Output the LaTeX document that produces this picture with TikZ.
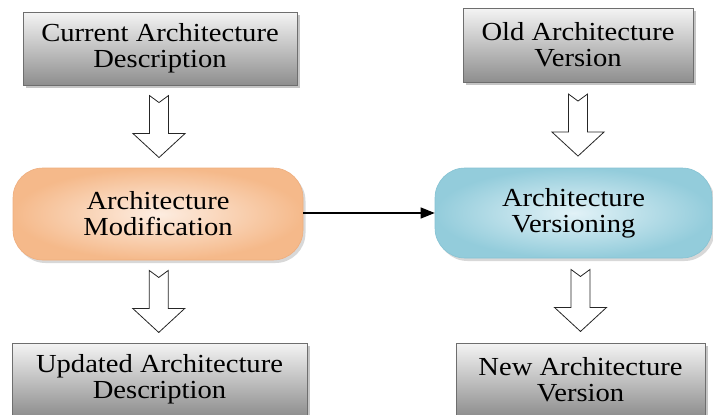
\documentclass[tikz,border=0pt]{standalone}
\usepackage{fontspec}
\setmainfont{Liberation Serif}[FakeStretch=1.1]
\usetikzlibrary{shadows,calc,arrows.meta}

\definecolor{boxedge}{HTML}{6E6E6E}
\definecolor{greytop}{HTML}{F4F4F4}
\definecolor{greybot}{HTML}{8E8E8E}
\definecolor{orangeout}{HTML}{F5B98A}
\definecolor{orangein}{HTML}{FDEDE1}
\definecolor{orangeedge}{HTML}{EFAE7E}
\definecolor{blueout}{HTML}{93CCDB}
\definecolor{bluein}{HTML}{E2F2F7}
\definecolor{blueedge}{HTML}{86C3D3}

\tikzset{
  docbox/.style={draw=boxedge, line width=0.8pt,
    top color=greytop, bottom color=greybot,
    drop shadow={shadow xshift=2.5pt, shadow yshift=-2.5pt, opacity=0.45},
    align=center, inner sep=0pt,
    font=\fontsize{26}{26}\selectfont},
  procbox/.style={rounded corners=30pt, line width=0.6pt,
    drop shadow={shadow xshift=2.5pt, shadow yshift=-3pt, opacity=0.3},
    shading=radial,
    align=center, inner sep=0pt,
    font=\fontsize{26}{26}\selectfont},
  modbox/.style={procbox, draw=orangeedge, inner color=orangein, outer color=orangeout},
  verbox/.style={procbox, draw=blueedge, inner color=bluein, outer color=blueout},
  link/.style={line width=1.2pt, -{Triangle[length=14pt,width=11pt]}},
  blockdown/.pic={
    \draw[fill=white, draw=black!85, line width=0.8pt, line join=miter]
      (-9.5,-31) -- (0,-24) -- (9.5,-31) -- (9.5,7) -- (26,7) -- (0,31)
      -- (-26,7) -- (-9.5,7) -- cycle;
  }
}

\begin{document}
\begin{tikzpicture}[x=1pt, y=-1pt]
  \useasboundingbox[fill=white] (0,0) rectangle (713,415);

  % source documents
  \node[docbox, minimum width=274pt, minimum height=73pt] (cur) at (160,48.5)
    {Current Architecture\\Description};
  \node[docbox, minimum width=230pt, minimum height=74pt] (old) at (578,45)
    {Old Architecture\\Version};

  % processes
  \node[modbox, minimum width=290pt, minimum height=92pt] (mod) at (158,214)
    {Architecture\\Modification};
  \node[verbox, minimum width=277pt, minimum height=90pt] (ver) at (573.5,213)
    {Architecture\\Versioning};

  % results
  \node[docbox, minimum width=295pt, minimum height=73pt] (upd) at (159.5,379.5)
    {Updated Architecture\\Description};
  \node[docbox, minimum width=249pt, minimum height=73pt] (new) at (580.5,379.5)
    {New Architecture\\Version};

  % block arrows between the stages
  \path (cur.south) -- coordinate[pos=.5] (a1) (mod.north);
  \path (old.south) -- coordinate[pos=.5] (a2) (old.south |- ver.north);
  \path (mod.south) -- coordinate[pos=.5] (a3) (upd.north);
  \path (new.north |- ver.south) -- coordinate[pos=.5] (a4) (new.north);
  \pic at (a1) {blockdown};
  \pic at (a2) {blockdown};
  \pic at (a3) {blockdown};
  \pic at (a4) {blockdown};

  % modification feeds versioning
  \draw[link] (mod.east |- 0,213) -- (ver.west |- 0,213);
\end{tikzpicture}
\end{document}
